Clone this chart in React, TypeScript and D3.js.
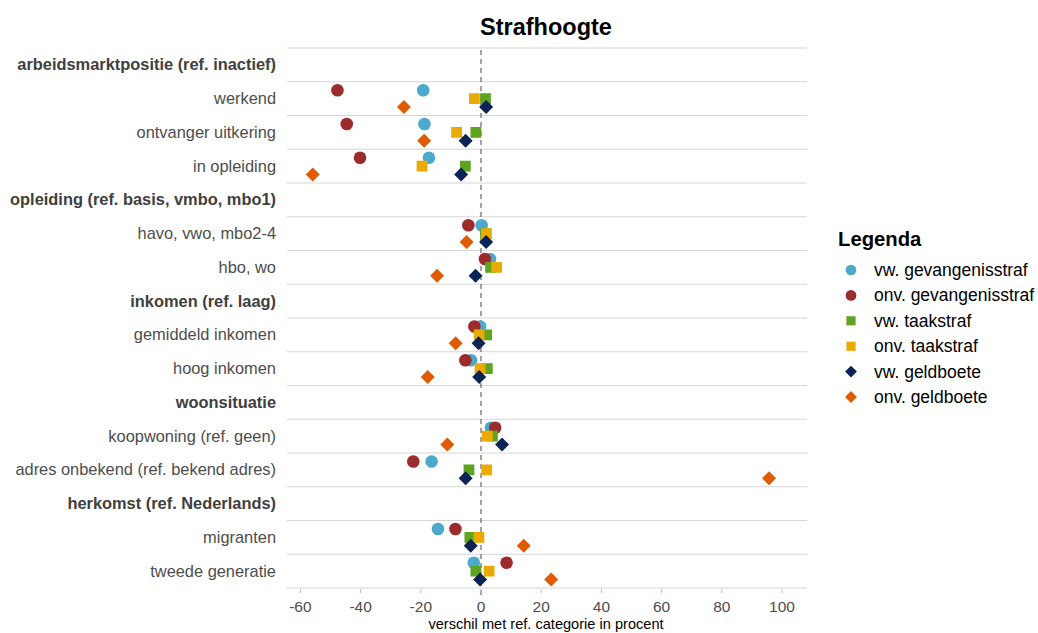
import React from "react";
import * as d3 from "d3";

const labels = [
  "arbeidsmarktpositie (ref. inactief)",
  "werkend",
  "ontvanger uitkering",
  "in opleiding",
  "opleiding (ref. basis, vmbo, mbo1)",
  "havo, vwo, mbo2-4",
  "hbo, wo",
  "inkomen (ref. laag)",
  "gemiddeld inkomen",
  "hoog inkomen",
  "woonsituatie",
  "koopwoning (ref. geen)",
  "adres onbekend (ref. bekend adres)",
  "herkomst (ref. Nederlands)",
  "migranten",
  "tweede generatie",
];
const isHeader = [true, false, false, false, true, false, false, true, false, false, true, false, false, true, false, false];

const seriesNames = [
  "vw. gevangenisstraf",
  "onv. gevangenisstraf",
  "vw. taakstraf",
  "onv. taakstraf",
  "vw. geldboete",
  "onv. geldboete",
];
const seriesColors = ["#4BA9CB", "#9C2B2B", "#5FA421", "#EAAA00", "#0C2356", "#E05A00"];
const seriesShapes = ["circle", "circle", "square", "square", "diamond", "diamond"];

const N = null;
const vwGevangenis = [N, -19.2, -18.8, -17.3, N, 0.2, 3.0, N, -0.3, -3.3, N, 3.3, -16.4, N, -14.3, -2.4];
const onvGevangenis = [N, -47.7, -44.6, -40.2, N, -4.2, 1.3, N, -2.2, -5.2, N, 4.7, -22.5, N, -8.5, 8.5];
const vwTaak = [N, 1.5, -1.7, -5.2, N, 1.5, 3.2, N, 1.9, 2.1, N, 3.8, -4.0, N, -3.7, -1.7];
const onvTaak = [N, -2.2, -8.1, -19.6, N, 1.8, 5.2, N, -0.6, -0.3, N, 2.1, 1.9, N, -0.7, 2.7];
const vwGeld = [N, 1.7, -5.1, -6.6, N, 1.7, -1.8, N, -0.8, -0.6, N, 7.0, -5.1, N, -3.4, -0.3];
const onvGeld = [N, -25.6, -18.9, -55.9, N, -4.8, -14.6, N, -8.4, -17.7, N, -11.2, 95.7, N, 14.2, 23.3];
const seriesValues = [vwGevangenis, onvGevangenis, vwTaak, onvTaak, vwGeld, onvGeld];

const xTicks = [-60, -40, -20, 0, 20, 40, 60, 80, 100];

const FONT = "'Liberation Sans', Arial, Helvetica, sans-serif";

function Marker({ shape, x, y, color, s }: { shape: string; x: number; y: number; color: string; s: number }) {
  if (shape === "circle") return <circle cx={x} cy={y} r={6.3 * s} fill={color} />;
  if (shape === "square") {
    const h = 5.4 * s;
    return <rect x={x - h} y={y - h} width={2 * h} height={2 * h} fill={color} />;
  }
  const d = 7 * s;
  return <path d={`M${x},${y - d}L${x + d},${y}L${x},${y + d}L${x - d},${y}Z`} fill={color} />;
}

export default function App() {
  const W = 1038;
  const H = 633;
  const left = 287;
  const right = 807;
  const top = 48;
  const bottom = 588;
  const zeroX = 481;
  const pxPerUnit = 3.01;
  const x = d3
    .scaleLinear()
    .domain([(left - zeroX) / pxPerUnit, (right - zeroX) / pxPerUnit])
    .range([left, right]);
  const y = d3
    .scaleBand<number>()
    .domain(d3.range(labels.length))
    .range([top, bottom])
    .padding(0);
  const bw = y.bandwidth();
  const offsets = [-0.25, -0.25, 0, 0, 0.25, 0.25];

  const boundaries = d3.range(labels.length + 1).map((i) => top + i * bw);

  return (
    <svg width={W} height={H} style={{ position: "absolute", left: 0, top: 0, background: "#fff" }} fontFamily={FONT}>
      <rect width={W} height={H} fill="#fff" />
      <text x={546} y={35} textAnchor="middle" fontSize={23.5} fontWeight="bold" fill="#000">
        Strafhoogte
      </text>
      {boundaries.map((b, i) => (
        <line key={i} x1={left} x2={right} y1={b} y2={b} stroke="#d6d6d6" strokeWidth={1} />
      ))}
      <line x1={zeroX} x2={zeroX} y1={top + 2} y2={595} stroke="#666" strokeWidth={1.2} strokeDasharray="5,4" />
      {labels.map((l, i) => (
        <text
          key={i}
          x={276}
          y={(y(i) as number) + bw / 2 + 5.5}
          textAnchor="end"
          fontSize={16.4}
          fontWeight={isHeader[i] ? "bold" : "normal"}
          fill={isHeader[i] ? "#404040" : "#4d4d4d"}
        >
          {l}
        </text>
      ))}
      {seriesValues.map((vals, si) =>
        vals.map((v, ri) =>
          v === null ? null : (
            <Marker
              key={`${si}-${ri}`}
              shape={seriesShapes[si]}
              x={x(v)}
              y={(y(ri) as number) + bw / 2 + offsets[si] * bw}
              color={seriesColors[si]}
              s={1}
            />
          )
        )
      )}
      {xTicks.map((t) => (
        <g key={t}>
          <line x1={x(t)} x2={x(t)} y1={589} y2={593} stroke="#bdbdbd" />
          <text x={x(t)} y={612} textAnchor="middle" fontSize={15.5} fill="#4d4d4d">
            {t}
          </text>
        </g>
      ))}
      <text x={546} y={629} textAnchor="middle" fontSize={14.6} fill="#000">
        verschil met ref. categorie in procent
      </text>
      <text x={838} y={246} fontSize={20.3} fontWeight="bold" fill="#000">
        Legenda
      </text>
      {seriesNames.map((n, i) => {
        const ly = 270 + i * 25.4;
        return (
          <g key={n}>
            <Marker shape={seriesShapes[i]} x={851} y={ly} color={seriesColors[i]} s={0.85} />
            <text x={874} y={ly + 6} fontSize={17.5} fill="#000">
              {n}
            </text>
          </g>
        );
      })}
    </svg>
  );
}
